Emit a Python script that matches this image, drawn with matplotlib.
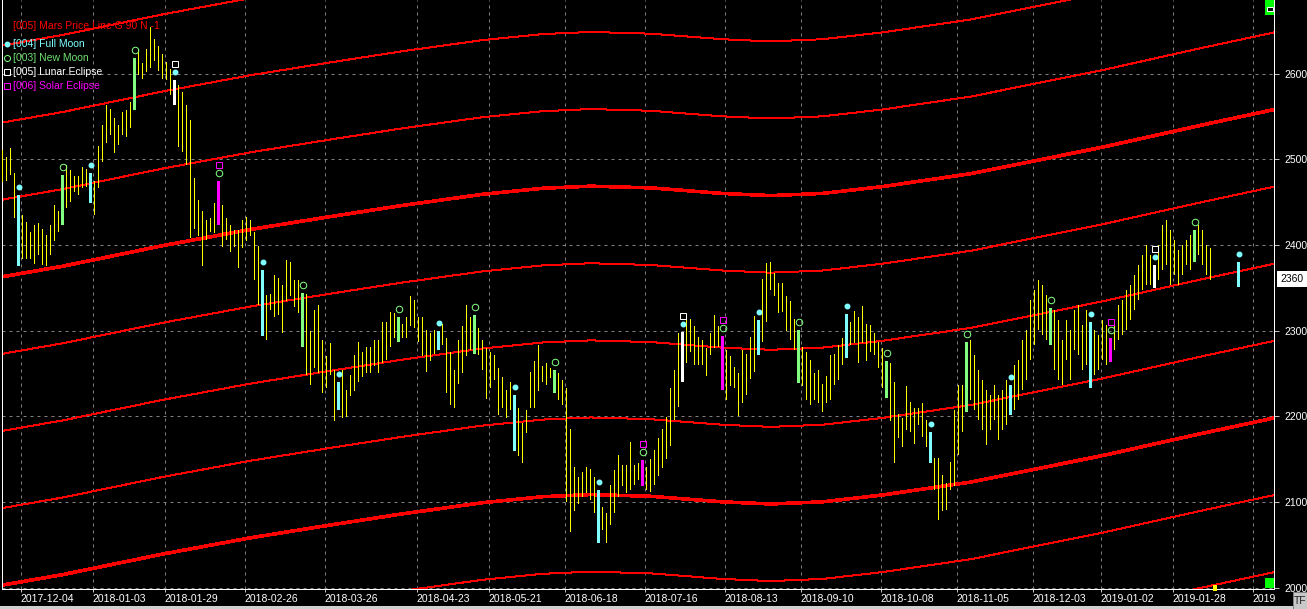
import matplotlib
matplotlib.use("Agg")
import matplotlib.pyplot as plt
import matplotlib.transforms as mtransforms
from matplotlib.patches import Rectangle

plt.rcParams['font.family'] = ['Liberation Sans', 'DejaVu Sans']
plt.rcParams['lines.scale_dashes'] = False

W, H, DPI = 1307, 609, 100
PX = 72.0 / DPI  # points per pixel

# ---------------- data ----------------
highs = [
    2511, 2503, 2513, 2484, 2458, 2435, 2427, 2415, 2423, 2425,
    2419, 2412, 2423, 2447, 2439, 2482, 2493, 2487, 2480, 2480,
    2491, 2489, 2484, 2474, 2515, 2540, 2563, 2559, 2548, 2540,
    2555, 2557, 2567, 2618, 2629, 2612, 2629, 2654, 2640, 2632,
    2623, 2614, 2605, 2592, 2587, 2578, 2563, 2546, 2478, 2452,
    2439, 2429, 2431, 2449, 2474, 2447, 2431, 2423, 2417, 2417,
    2429, 2432, 2429, 2415, 2399, 2371, 2342, 2343, 2365, 2361,
    2353, 2382, 2380, 2359, 2359, 2344, 2343, 2299, 2324, 2330,
    2289, 2270, 2285, 2254, 2240, 2254, 2231, 2248, 2271, 2287,
    2275, 2281, 2281, 2289, 2289, 2310, 2310, 2322, 2320, 2316,
    2308, 2316, 2340, 2336, 2316, 2316, 2301, 2297, 2301, 2299,
    2308, 2291, 2275, 2254, 2289, 2305, 2330, 2316, 2318, 2303,
    2289, 2280, 2275, 2271, 2256, 2246, 2231, 2240, 2225, 2209,
    2192, 2207, 2252, 2264, 2283, 2258, 2262, 2256, 2254, 2250,
    2242, 2233, 2185, 2141, 2129, 2135, 2141, 2138, 2129, 2114,
    2094, 2087, 2120, 2137, 2155, 2143, 2143, 2170, 2143, 2145,
    2149, 2141, 2150, 2160, 2175, 2185, 2199, 2233, 2254, 2297,
    2298, 2314, 2314, 2305, 2292, 2289, 2279, 2297, 2318, 2305,
    2293, 2277, 2270, 2257, 2250, 2277, 2273, 2292, 2317, 2312,
    2360, 2379, 2380, 2367, 2355, 2356, 2340, 2335, 2314, 2301,
    2281, 2275, 2266, 2250, 2254, 2238, 2247, 2271, 2273, 2283,
    2291, 2319, 2310, 2323, 2316, 2329, 2308, 2306, 2297, 2287,
    2279, 2264, 2262, 2240, 2203, 2198, 2235, 2216, 2209, 2209,
    2215, 2196, 2181, 2151, 2151, 2131, 2122, 2147, 2207, 2236,
    2236, 2287, 2289, 2271, 2254, 2242, 2231, 2225, 2236, 2225,
    2231, 2242, 2236, 2260, 2266, 2289, 2301, 2336, 2347, 2359,
    2353, 2342, 2326, 2324, 2312, 2289, 2312, 2301, 2324, 2330,
    2306, 2324, 2310, 2301, 2295, 2312, 2306, 2291, 2312, 2330,
    2336, 2347, 2353, 2365, 2376, 2388, 2400, 2388, 2376, 2400,
    2423, 2429, 2417, 2406, 2394, 2400, 2406, 2412, 2417, 2423,
    2417, 2400, 2396,
]
lows = [
    2473, 2474, 2482, 2431, 2375, 2384, 2384, 2384, 2378, 2388,
    2377, 2375, 2388, 2404, 2415, 2423, 2443, 2450, 2462, 2458,
    2466, 2468, 2449, 2435, 2466, 2497, 2519, 2528, 2507, 2517,
    2528, 2526, 2536, 2557, 2598, 2594, 2602, 2606, 2615, 2603,
    2594, 2592, 2575, 2563, 2514, 2508, 2493, 2408, 2419, 2410,
    2375, 2406, 2415, 2414, 2423, 2398, 2406, 2392, 2398, 2373,
    2396, 2404, 2410, 2359, 2330, 2293, 2289, 2324, 2316, 2318,
    2297, 2334, 2340, 2328, 2320, 2281, 2248, 2236, 2256, 2250,
    2227, 2233, 2248, 2194, 2207, 2198, 2199, 2223, 2229, 2240,
    2246, 2250, 2250, 2258, 2250, 2262, 2266, 2281, 2291, 2287,
    2291, 2291, 2305, 2303, 2287, 2270, 2252, 2264, 2273, 2277,
    2283, 2227, 2213, 2209, 2238, 2250, 2270, 2277, 2273, 2271,
    2254, 2220, 2233, 2242, 2201, 2209, 2198, 2207, 2159, 2153,
    2145, 2180, 2209, 2209, 2229, 2240, 2236, 2244, 2227, 2219,
    2213, 2100, 2065, 2089, 2098, 2106, 2110, 2102, 2087, 2052,
    2067, 2052, 2073, 2087, 2106, 2118, 2110, 2114, 2120, 2126,
    2118, 2114, 2112, 2120, 2130, 2140, 2150, 2165, 2196, 2211,
    2240, 2262, 2275, 2260, 2260, 2260, 2247, 2271, 2279, 2281,
    2231, 2219, 2235, 2233, 2200, 2215, 2225, 2243, 2252, 2271,
    2287, 2310, 2347, 2340, 2320, 2322, 2299, 2289, 2277, 2239,
    2235, 2219, 2213, 2219, 2215, 2205, 2215, 2219, 2236, 2242,
    2260, 2268, 2283, 2285, 2262, 2285, 2264, 2275, 2271, 2256,
    2233, 2221, 2194, 2145, 2174, 2164, 2184, 2182, 2168, 2190,
    2176, 2164, 2145, 2114, 2079, 2089, 2091, 2114, 2118, 2155,
    2182, 2205, 2219, 2207, 2196, 2184, 2166, 2184, 2196, 2172,
    2184, 2190, 2201, 2207, 2219, 2231, 2242, 2266, 2283, 2301,
    2295, 2289, 2283, 2254, 2242, 2236, 2266, 2242, 2277, 2271,
    2254, 2260, 2233, 2248, 2254, 2266, 2260, 2263, 2277, 2289,
    2295, 2301, 2312, 2324, 2336, 2347, 2353, 2353, 2350, 2359,
    2371, 2376, 2353, 2365, 2353, 2365, 2376, 2371, 2380, 2388,
    2376, 2365, 2359,
]

# lunar events (bar index)
full_moon = [4, 22, 43, 65, 84, 109, 128, 149, 170, 189, 211, 232, 252, 272, 288]
new_moon = [15, 33, 54, 75, 99, 118, 138, 160, 180, 199, 221, 241, 262, 277, 298]
lunar_eclipse = [43, 170, 288]
solar_eclipse = [54, 160, 180, 277]
# projected full-moon bar beyond the last data bar
proj_index = [309]
proj_high = [2380]
proj_low = [2351]

# Mars price line base (level 0), knots by bar index
mars_index = [-1, 15, 40, 62, 82, 100, 120, 135, 147, 162, 180, 192, 205, 220, 242, 275, 300, 318]
mars_base = [2002, 2015, 2039, 2058, 2073, 2086, 2099, 2106, 2108.5, 2106.5, 2100, 2097.5,
             2100, 2108, 2123, 2154, 2180, 2198]
mars_step = 90
mars_levels = list(range(-2, 9))

date_ticks = [4.5, 22.5, 40.5, 60.5, 80.5, 103.5, 121.5, 140.5, 160.5, 180.5,
              199.5, 219.5, 238.5, 257.5, 274.5, 292.5, 312.5]
date_labels = ['2017-12-04', '2018-01-03', '2018-01-29', '2018-02-26', '2018-03-26',
               '2018-04-23', '2018-05-21', '2018-06-18', '2018-07-16', '2018-08-13',
               '2018-09-10', '2018-10-08', '2018-11-05', '2018-12-03', '2019-01-02',
               '2019-01-28', '2019']
price_ticks = [2000, 2100, 2200, 2300, 2400, 2500, 2600]
last_price = 2360

legend_items = [
    ('[005] Mars Price Line G 90 N -1', '#FF0000', None),
    ('[004] Full Moon', '#7FFFFF', 'fm'),
    ('[003] New Moon', '#70E070', 'nm'),
    ('[005] Lunar Eclipse', '#FFFFFF', 'le'),
    ('[006] Solar Eclipse', '#FF00FF', 'se'),
]

# ---------------- colours ----------------
C_BAR = '#FFFF00'
C_FM = '#7FFFFF'
C_NM = '#80FF80'
C_LE = '#FFFFFF'
C_SE = '#FF00FF'
C_RED = '#FF0000'
C_GRID = '#808080'

# ---------------- figure ----------------
fig = plt.figure(figsize=(W / DPI, H / DPI), dpi=DPI, facecolor='black')
ax = fig.add_axes([2 / W, (H - 589) / H, (1274 - 2) / W, 589 / H])
ax.set_facecolor('black')
ax.set_xlim(-0.125, (1274 - 2) / 4 - 0.125)
ax.set_ylim(1998.25, 2685.8)

# Mars price lines
for k in mars_levels:
    thick = (k % 4 == 0)
    ax.plot(mars_index, [b + mars_step * k for b in mars_base], color=C_RED,
            lw=(2.6 if thick else 1.0) * PX, zorder=2, antialiased=False,
            solid_capstyle='butt')

# bars
n = len(highs)
xs = list(range(n))


def bar_color(i):
    if i in lunar_eclipse:
        return C_LE
    if i in solar_eclipse:
        return C_SE
    if i in full_moon:
        return C_FM
    if i in new_moon:
        return C_NM
    return None


plain = [i for i in xs if bar_color(i) is None]
special = [i for i in xs if bar_color(i) is not None]
ax.bar(plain, [highs[i] - lows[i] for i in plain], bottom=[lows[i] for i in plain],
       width=0.25, color=C_BAR, linewidth=0, antialiased=False, zorder=3)
ax.bar(special, [highs[i] - lows[i] for i in special], bottom=[lows[i] for i in special],
       width=0.75, color=[bar_color(i) for i in special], linewidth=0,
       antialiased=False, zorder=4)
ax.bar(proj_index, [h - l for h, l in zip(proj_high, proj_low)], bottom=proj_low,
       width=0.75, color=C_FM, linewidth=0, antialiased=False, zorder=4)

# markers above bars
off8 = ax.transData + mtransforms.ScaledTranslation(0, 8 / DPI, fig.dpi_scale_trans)
off16 = ax.transData + mtransforms.ScaledTranslation(0, 16 / DPI, fig.dpi_scale_trans)
fm_x = [i for i in full_moon if i < n] + proj_index
fm_y = [highs[i] for i in full_moon if i < n] + proj_high
ax.plot(fm_x, fm_y, ls='none', marker='o', ms=4.5 * PX, mfc=C_FM, mec=C_FM,
        transform=off8, zorder=5)
ax.plot(new_moon, [highs[i] for i in new_moon], ls='none', marker='o', ms=6.5 * PX,
        mfc='none', mec=C_NM, mew=1.0 * PX, transform=off8, zorder=5)
ax.plot(lunar_eclipse, [highs[i] for i in lunar_eclipse], ls='none', marker='s',
        ms=6.5 * PX, mfc='none', mec=C_LE, mew=1.0 * PX, transform=off16, zorder=5)
ax.plot(solar_eclipse, [highs[i] for i in solar_eclipse], ls='none', marker='s',
        ms=6.5 * PX, mfc='none', mec=C_SE, mew=1.0 * PX, transform=off16, zorder=5)

# grid / ticks
ax.set_xticks(date_ticks)
ax.set_xticklabels(date_labels, ha='left')
ax.set_yticks(price_ticks)
ax.yaxis.tick_right()
ax.grid(True, color=C_GRID, lw=1.0 * PX, linestyle=(0, (3 * PX, 4 * PX)), zorder=1)
ax.set_axisbelow(True)
ax.tick_params(axis='x', colors='white', length=3 * PX, width=1 * PX, pad=1.5 * PX,
               labelsize=7.5, color='#C0C0C0')
ax.tick_params(axis='y', colors='white', length=5 * PX, width=1 * PX, pad=5 * PX,
               labelsize=7.5, color='#C0C0C0')
for s in ('left', 'bottom', 'right'):
    ax.spines[s].set_color('white')
    ax.spines[s].set_linewidth(1.0 * PX)
ax.spines['top'].set_visible(False)

# last price box
trans = mtransforms.blended_transform_factory(ax.transAxes, ax.transData)
ax.text(1 + 6.5 / 1272, last_price, str(last_price), transform=trans, ha='left',
        va='center', color='black', fontsize=7.5, zorder=10,
        bbox=dict(boxstyle='square,pad=0.32', fc='white', ec='none'))

# ---------------- overlay (legend, status boxes) ----------------
ov = fig.add_axes([0, 0, 1, 1], zorder=5)
ov.set_xlim(0, W)
ov.set_ylim(H, 0)
ov.axis('off')
ov.patch.set_alpha(0)

ly = [26, 44, 58, 72, 86]
for (label, col, kind), yy in zip(legend_items, ly):
    ov.text(13, yy, label, color=col, fontsize=7.5, ha='left', va='center')
    if kind == 'fm':
        ov.plot(7, yy, marker='o', ms=4.5 * PX, mfc=C_FM, mec=C_FM)
    elif kind == 'nm':
        ov.plot(7, yy, marker='o', ms=6.0 * PX, mfc='none', mec=C_NM, mew=PX)
    elif kind == 'le':
        ov.plot(7, yy, marker='s', ms=6.0 * PX, mfc='none', mec=C_LE, mew=PX)
    elif kind == 'se':
        ov.plot(7, yy, marker='s', ms=6.0 * PX, mfc='none', mec=C_SE, mew=PX)

ov.add_patch(Rectangle((1265, 0), 9, 15, fc='#00FF00', ec='none'))
ov.add_patch(Rectangle((1266.5, 6.5), 6, 4, fc='black', ec='white', lw=PX))
ov.add_patch(Rectangle((1265, 578), 9, 10, fc='#00FF00', ec='none'))
ov.add_patch(Rectangle((1213, 585), 4, 6, fc='#FFFF00', ec='none'))
ov.add_patch(Rectangle((0, 606), W, 3, fc='#D0D0D0', ec='none'))
ov.add_patch(Rectangle((1293, 592), 14, 17, fc='#C8C8C8', ec='#808080', lw=PX))
ov.text(1300, 600.5, 'TF', color='#202020', fontsize=7.5, ha='center', va='center')

fig.savefig('out.png', dpi=DPI, facecolor='black')
